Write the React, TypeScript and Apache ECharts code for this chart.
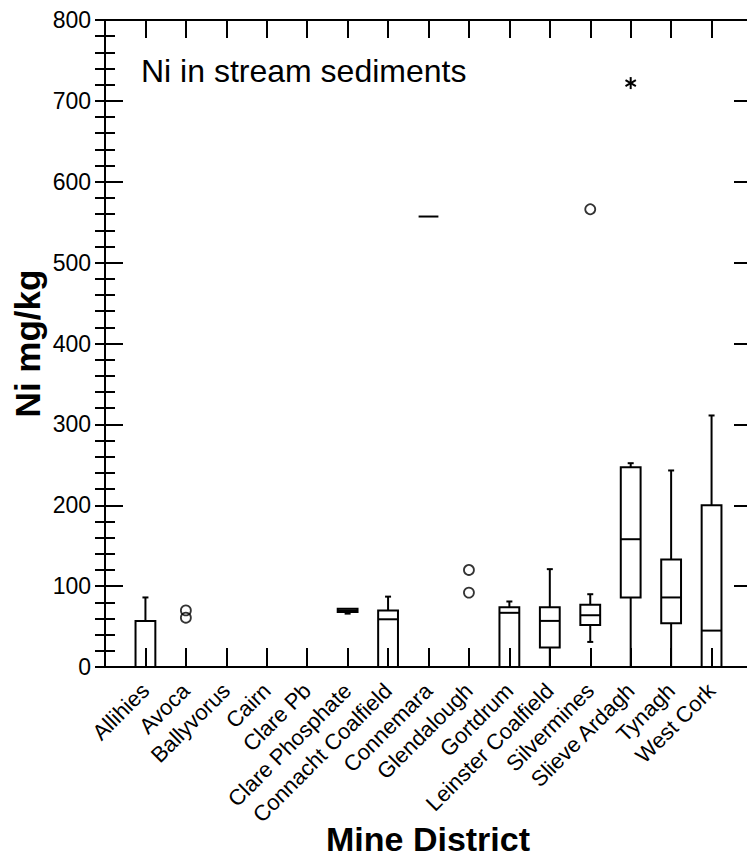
import React, { useEffect, useRef } from 'react';
import * as echarts from 'echarts';

const categories = [
  'Allihies', 'Avoca', 'Ballyvorus', 'Cairn', 'Clare Pb', 'Clare Phosphate',
  'Connacht Coalfield', 'Connemara', 'Glendalough', 'Gortdrum',
  'Leinster Coalfield', 'Silvermines', 'Slieve Ardagh', 'Tynagh', 'West Cork',
];

// box statistics per district (null = no box drawn)
const boxMin = [0, null, null, null, null, 66, 0, 557, null, 0, 0, 31, 0, 0, 0];
const boxQ1 = [0, null, null, null, null, 68, 0, 557, null, 0, 24, 52, 86, 54, 0];
const boxMedian = [0, null, null, null, null, 70, 59, 557, null, 67, 57, 64, 158, 86, 45];
const boxQ3 = [57, null, null, null, null, 72, 70, 557, null, 74, 74, 77, 247, 133, 200];
const boxMax = [86, null, null, null, null, 72, 87, 557, null, 81, 121, 90, 252, 243, 311];

// outliers (circles) and far outliers (asterisks)
const outlierDistricts = ['Avoca', 'Avoca', 'Glendalough', 'Glendalough', 'Silvermines'];
const outlierValues = [70, 61, 120, 92, 566];
const farOutlierDistricts = ['Slieve Ardagh'];
const farOutlierValues = [722];

const yTicks = [0, 100, 200, 300, 400, 500, 600, 700, 800];

const FONT = 'Arial, "Liberation Sans", sans-serif';

export default function App() {
  const ref = useRef<HTMLDivElement>(null);

  useEffect(() => {
    if (!ref.current) return;
    const chart = echarts.init(ref.current, null, { renderer: 'svg' });

    const boxData: any[] = [];
    categories.forEach((c, i) => {
      if (boxMin[i] === null) return;
      boxData.push([i + 1, boxMin[i], boxQ1[i], boxMedian[i], boxQ3[i], boxMax[i]]);
    });
    const outData = outlierDistricts.map((d, i) => [categories.indexOf(d) + 1, outlierValues[i]]);
    const farData = farOutlierDistricts.map((d, i) => [categories.indexOf(d) + 1, farOutlierValues[i]]);

    const lineStyle = { stroke: '#000', lineWidth: 2 };

    const xCommon = {
      type: 'value',
      min: 0,
      max: categories.length + 1,
      interval: 1,
      splitLine: { show: false },
      axisLine: { show: true, onZero: false, lineStyle: { color: '#000', width: 2 } },
    };
    const yCommon = {
      type: 'value',
      min: yTicks[0],
      max: yTicks[yTicks.length - 1],
      interval: 100,
      splitLine: { show: false },
      axisLine: { show: true, onZero: false, lineStyle: { color: '#000', width: 2 } },
      axisTick: { show: true, inside: true, length: 18, lineStyle: { color: '#000', width: 2 } },
    };
    const yMinor = {
      type: 'value',
      min: yTicks[0],
      max: yTicks[yTicks.length - 1],
      interval: 20,
      splitLine: { show: false },
      axisLine: { show: false },
      axisLabel: { show: false },
      axisTick: { show: true, inside: true, length: 10, lineStyle: { color: '#000', width: 2 } },
    };

    chart.setOption({
      animation: false,
      backgroundColor: '#fff',
      grid: { left: 105, width: 647, top: 20, height: 647, containLabel: false, outerBoundsMode: 'none' },
      xAxis: [
        {
          ...xCommon,
          position: 'bottom',
          axisTick: { show: true, inside: true, length: 19, lineStyle: { color: '#000', width: 2 } },
          axisLabel: {
            show: true,
            rotate: 45,
            margin: 20,
            fontSize: 22,
            fontFamily: FONT,
            color: '#000',
            formatter: (v: number) => categories[v - 1] ?? '',
            showMinLabel: true,
            showMaxLabel: true,
          },
        },
        {
          ...xCommon,
          position: 'top',
          axisTick: { show: true, inside: true, length: 18, lineStyle: { color: '#000', width: 2 } },
          axisLabel: { show: false },
        },
      ],
      yAxis: [
        {
          ...yCommon,
          position: 'left',
          axisLabel: { show: true, margin: 14, fontSize: 23, fontFamily: FONT, color: '#000' },
          name: 'Ni mg/kg',
          nameLocation: 'middle',
          nameRotate: 90,
          nameGap: 60,
          nameMoveOverlap: false,
          nameTextStyle: { fontSize: 35, fontWeight: 'bold', fontFamily: FONT, color: '#000' },
        },
        {
          ...yCommon,
          position: 'right',
          axisLabel: { show: false },
        },
        { ...yMinor, position: 'left' },
        { ...yMinor, position: 'right' },
      ],
      graphic: [
        {
          type: 'text',
          left: 141,
          top: 55,
          style: { text: 'Ni in stream sediments', fontSize: 32, fontFamily: FONT, fill: '#000' },
        },
        {
          type: 'text',
          x: 428,
          y: 839,
          style: {
            text: 'Mine District',
            fontSize: 34,
            fontWeight: 'bold',
            fontFamily: FONT,
            fill: '#000',
            align: 'center',
            verticalAlign: 'middle',
          },
        },
      ],
      series: [
        {
          type: 'custom',
          xAxisIndex: 0,
          yAxisIndex: 0,
          data: boxData,
          encode: { x: 0, y: [1, 2, 3, 4, 5] },
          renderItem: (params: any, api: any) => {
            const x = api.value(0);
            const vMin = api.value(1), vQ1 = api.value(2), vMed = api.value(3), vQ3 = api.value(4), vMax = api.value(5);
            const cx = api.coord([x, vMed])[0];
            const yMin = api.coord([x, vMin])[1];
            const yQ1 = api.coord([x, vQ1])[1];
            const yMed = api.coord([x, vMed])[1];
            const yQ3 = api.coord([x, vQ3])[1];
            const yMax = api.coord([x, vMax])[1];
            const half = api.size([1, 0])[0] * 0.245;
            const cap = 3;
            const children: any[] = [];
            if (yQ1 - yQ3 > 0.5) {
              children.push({
                type: 'rect',
                shape: { x: cx - half, y: yQ3, width: half * 2, height: yQ1 - yQ3 },
                style: { ...lineStyle, fill: null },
              });
            }
            children.push({ type: 'line', shape: { x1: cx - half, y1: yMed, x2: cx + half, y2: yMed }, style: lineStyle });
            if (vMax > vQ3) {
              children.push({ type: 'line', shape: { x1: cx, y1: yQ3, x2: cx, y2: yMax }, style: lineStyle });
              children.push({ type: 'line', shape: { x1: cx - cap, y1: yMax, x2: cx + cap, y2: yMax }, style: lineStyle });
            }
            if (vMin < vQ1) {
              children.push({ type: 'line', shape: { x1: cx, y1: yQ1, x2: cx, y2: yMin }, style: lineStyle });
              children.push({ type: 'line', shape: { x1: cx - cap, y1: yMin, x2: cx + cap, y2: yMin }, style: lineStyle });
            }
            return { type: 'group', children };
          },
        },
        {
          type: 'scatter',
          xAxisIndex: 0,
          yAxisIndex: 0,
          data: outData,
          symbol: 'circle',
          symbolSize: 10,
          itemStyle: { color: 'rgba(0,0,0,0)', borderColor: '#000', borderWidth: 1.8 },
        },
        {
          type: 'custom',
          xAxisIndex: 0,
          yAxisIndex: 0,
          data: farData,
          renderItem: (params: any, api: any) => {
            const p = api.coord([api.value(0), api.value(1)]);
            const r = 6;
            const children: any[] = [];
            [90, 30, 150].forEach((deg) => {
              const a = (deg * Math.PI) / 180;
              children.push({
                type: 'line',
                shape: { x1: p[0] - r * Math.cos(a), y1: p[1] - r * Math.sin(a), x2: p[0] + r * Math.cos(a), y2: p[1] + r * Math.sin(a) },
                style: { stroke: '#000', lineWidth: 2 },
              });
            });
            return { type: 'group', children };
          },
        },
      ],
    });

    return () => chart.dispose();
  }, []);

  return <div ref={ref} style={{ position: 'absolute', left: 0, top: 0, width: 747, height: 858 }} />;
}
